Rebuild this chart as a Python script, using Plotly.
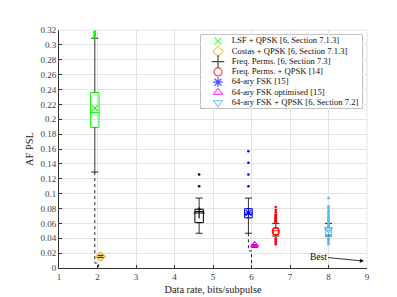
import plotly.graph_objects as go

# ---------------- data ----------------
names = ["LSF + QPSK [6, Section 7.1.3]",
         "Costas + QPSK [6, Section 7.1.3]",
         "Freq. Perms. [6, Section 7.3]",
         "Freq. Perms. + QPSK [14]",
         "64-ary FSK [15]",
         "64-ary FSK optimised [15]",
         "64-ary FSK + QPSK [6, Section 7.2]"]
x_pos = [1.93, 2.08, 4.64, 6.63, 5.92, 6.08, 8.0]
q1 = [0.189, 0.0140, 0.061, 0.045, 0.0675, 0.0280, 0.045]
median = [0.209, 0.0153, 0.076, 0.050, 0.0720, 0.0290, 0.051]
q3 = [0.236, 0.0170, 0.079, 0.054, 0.0798, 0.0310, 0.054]
lower_whisker = [0.129, 0.0140, 0.0467, 0.043, 0.0467, 0.0280, 0.043]
upper_whisker = [0.309, 0.0170, 0.094, 0.060, 0.094, 0.0310, 0.060]
means = [0.215, 0.0153, 0.074, 0.049, 0.074, 0.031, 0.052]
outliers = [
    [0.310, 0.311, 0.312, 0.313, 0.314, 0.315, 0.316, 0.317, 0.318],
    [],
    [0.110, 0.1257],
    [0.061, 0.062, 0.063, 0.064, 0.065, 0.066, 0.067, 0.068, 0.069, 0.070,
     0.071, 0.072, 0.075, 0.078, 0.082, 0.040, 0.038, 0.036, 0.034, 0.032],
    [0.110, 0.1257, 0.1415, 0.157],
    [],
    [0.094, 0.083, 0.081, 0.078, 0.076, 0.074, 0.072, 0.070, 0.068, 0.066,
     0.064, 0.062, 0.060, 0.058, 0.056, 0.042, 0.040, 0.038, 0.036, 0.034, 0.032],
]
# dotted range links
link1_x = [1.93, 1.93, 2.03, 2.03]
link1_y = [0.129, 0.0066, 0.0066, 0.0]
link2_x = [5.92, 5.92, 6.0, 6.0]
link2_y = [0.0467, 0.023, 0.023, 0.0]

colors = ["#00ff00", "#EDB120", "#000000", "#ff0000", "#0000ff", "#ff00ff", "#4DBEEE"]
outlier_colors = ["#00ff00", "#EDB120", "#000000", "#ff0000", "#0000ff", "#ff00ff", "#4DBEEE"]
symbols = ["x-thin", "diamond-open", "cross-thin", "circle-open", "asterisk-open",
           "triangle-up-open", "triangle-down-open"]
box_widths = [0.22, 0.12, 0.22, 0.13, 0.2, 0.13, 0.15]
mean_sizes = [6, 7, 8, 7, 7, 7, 7]
legend_sizes = [7, 8, 9, 8, 8, 8, 8]

y_ticks = [0, 0.02, 0.04, 0.06, 0.08, 0.1, 0.12, 0.14, 0.16, 0.18, 0.2,
           0.22, 0.24, 0.26, 0.28, 0.3, 0.32]
y_ticktext = ["0", "0.02", "0.04", "0.06", "0.08", "0.1", "0.12", "0.14", "0.16",
              "0.18", "0.2", "0.22", "0.24", "0.26", "0.28", "0.3", "0.32"]
x_ticks = [1, 2, 3, 4, 5, 6, 7, 8, 9]

FONT = "Liberation Serif"
fig = go.Figure()

# dotted links
for lx, ly in [(link1_x, link1_y), (link2_x, link2_y)]:
    fig.add_trace(go.Scatter(x=lx, y=ly, mode="lines",
                             line=dict(color="#222", width=1, dash="dot"),
                             showlegend=False, hoverinfo="skip"))

for i in range(len(names)):
    # whiskers
    fig.add_trace(go.Scatter(
        x=[x_pos[i], x_pos[i], None, x_pos[i], x_pos[i]],
        y=[q3[i], upper_whisker[i], None, q1[i], lower_whisker[i]],
        mode="lines", line=dict(color="#333", width=1),
        showlegend=False, hoverinfo="skip"))
    fig.add_trace(go.Scatter(
        x=[x_pos[i], x_pos[i]], y=[lower_whisker[i], upper_whisker[i]],
        mode="markers", marker=dict(symbol="line-ew", size=5,
                                    line=dict(color="#222", width=1)),
        showlegend=False, hoverinfo="skip"))
    # outliers
    if outliers[i]:
        fig.add_trace(go.Scatter(
            x=[x_pos[i]] * len(outliers[i]), y=outliers[i], mode="markers",
            marker=dict(symbol="circle", size=2.6, color=outlier_colors[i]),
            showlegend=False, hoverinfo="skip"))
    # box
    fig.add_trace(go.Box(
        x=[x_pos[i]], q1=[q1[i]], median=[median[i]], q3=[q3[i]],
        lowerfence=[q1[i]], upperfence=[q3[i]],
        width=box_widths[i], line=dict(color=colors[i], width=1),
        fillcolor="rgba(255,255,255,0)", boxpoints=False,
        showlegend=False, hoverinfo="skip"))
    # mean marker
    fig.add_trace(go.Scatter(
        x=[x_pos[i]], y=[means[i]], mode="markers",
        marker=dict(symbol=symbols[i], size=mean_sizes[i], color=colors[i],
                    line=dict(color=colors[i], width=1.1)),
        showlegend=False, hoverinfo="skip"))

# custom compact legend on its own axes
rows = list(range(len(names)))
fig.add_trace(go.Scatter(
    x=[17.3] * len(names), y=rows, mode="markers", xaxis="x2", yaxis="y2",
    marker=dict(symbol=symbols, size=legend_sizes, color=colors,
                line=dict(color=colors, width=1.2)),
    showlegend=False, hoverinfo="skip"))
fig.add_trace(go.Scatter(
    x=[31] * len(names), y=rows, mode="text", xaxis="x2", yaxis="y2",
    text=names, textposition="middle right",
    textfont=dict(family=FONT, size=8.6, color="#111"),
    showlegend=False, hoverinfo="skip"))

fig.add_shape(type="rect", xref="x2 domain", yref="y2 domain",
              x0=0, x1=1, y0=0, y1=1, layer="below",
              fillcolor="white", line=dict(color="#8a8a8a", width=1))

fig.add_annotation(x=8.92, y=0.0093, ax=7.73, ay=0.0153, axref="x", ayref="y",
                   text="Best", showarrow=True, arrowhead=2, arrowsize=1,
                   arrowwidth=0.8, arrowcolor="#000",
                   font=dict(family=FONT, size=9.5, color="#000"))

axis_font = dict(family=FONT, size=9, color="#404040")
fig.update_layout(
    width=397, height=297,
    margin=dict(l=51, r=38, t=22, b=33),
    paper_bgcolor="white", plot_bgcolor="white",
    boxmode="overlay",
    font=dict(family=FONT),
    xaxis=dict(range=[1, 9], tickvals=x_ticks, showgrid=True, gridcolor="#e3e3e3",
               gridwidth=1, zeroline=False, showline=True, linecolor="#333",
               linewidth=1, ticks="inside", ticklen=3, tickcolor="#333",
               tickfont=axis_font,
               title=dict(text="Data rate, bits/subpulse", standoff=4,
                          font=dict(family=FONT, size=10.4, color="#222"))),
    yaxis=dict(range=[0, 0.32], tickvals=y_ticks, ticktext=y_ticktext,
               showgrid=True, gridcolor="#e3e3e3", gridwidth=1, zeroline=False,
               showline=True, linecolor="#333", linewidth=1, ticks="inside",
               ticklen=3, tickcolor="#333", tickfont=axis_font,
               title=dict(text="AF PSL", standoff=4,
                          font=dict(family=FONT, size=10.4, color="#222"))),
    xaxis2=dict(domain=[0.460, 0.985], range=[0, 161.6], anchor="y2",
                visible=False, fixedrange=True),
    yaxis2=dict(domain=[0.671, 0.979], range=[6.55, -0.6], anchor="x2",
                visible=False, fixedrange=True),
    shapes=list(fig.layout.shapes) + [
        dict(type="line", xref="paper", yref="paper", x0=0, x1=1, y0=1, y1=1,
             line=dict(color="#e3e3e3", width=1), layer="below"),
        dict(type="line", xref="paper", yref="paper", x0=1, x1=1, y0=0, y1=1,
             line=dict(color="#e3e3e3", width=1), layer="below"),
    ],
)

fig.write_html("out.html")
